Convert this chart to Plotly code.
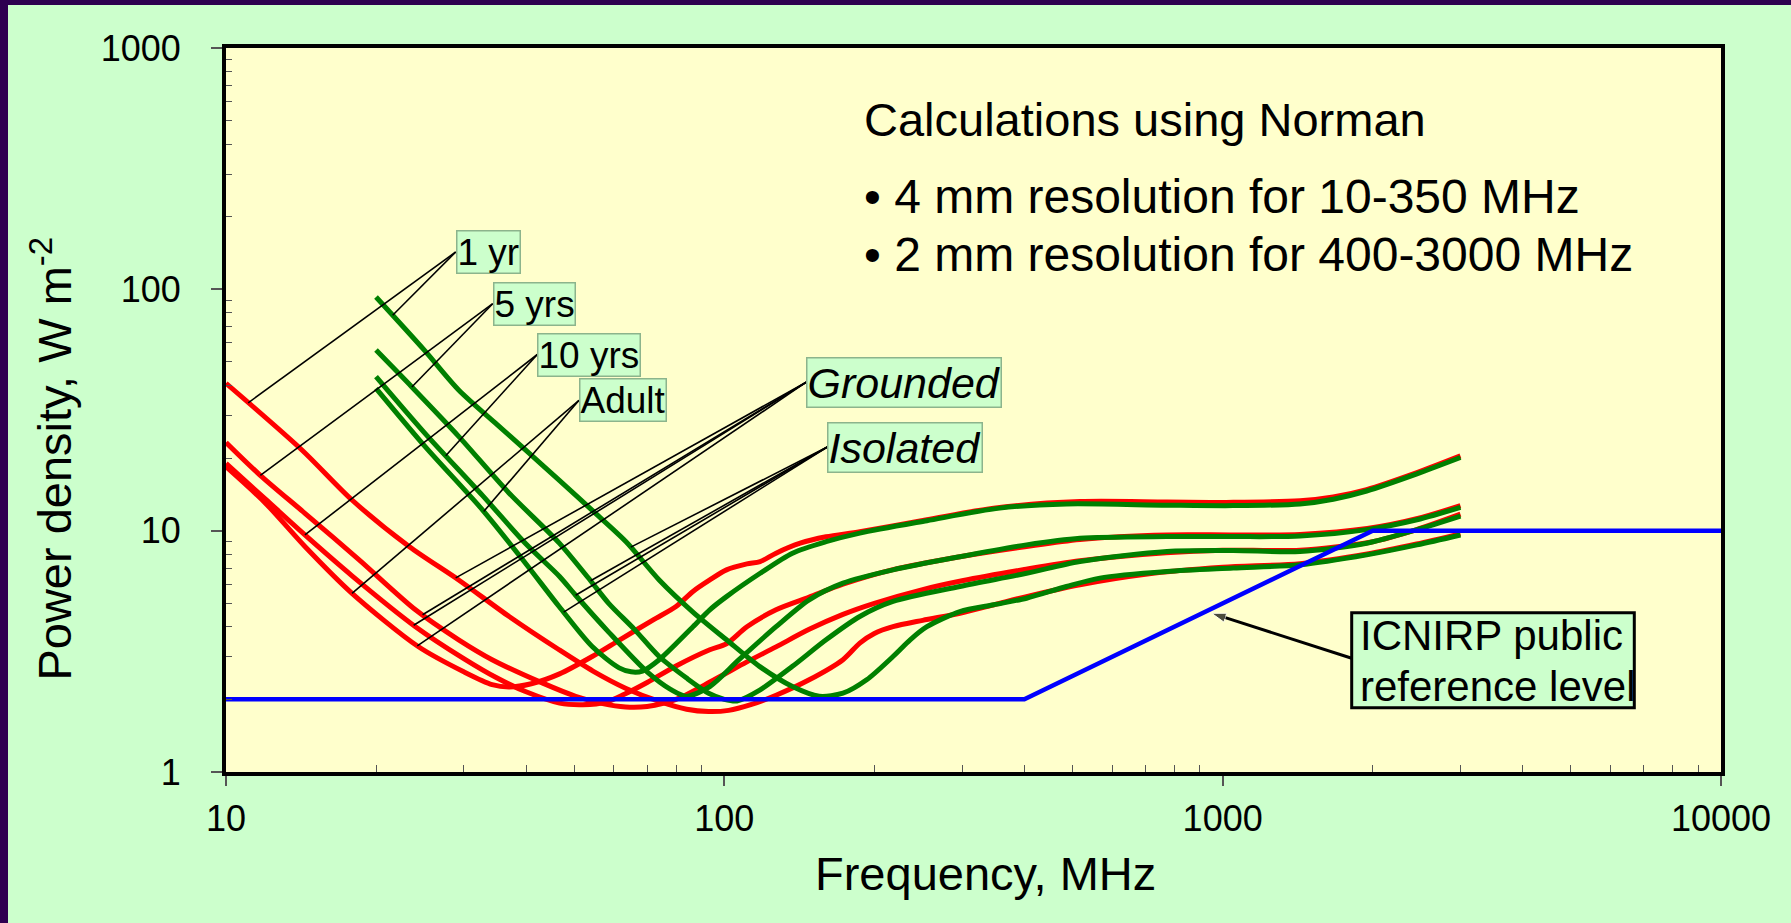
import numpy as np
import plotly.graph_objects as go

# ---------------- data ----------------
freq_icnirp = [10, 400, 2000, 10000]
pd_icnirp = [2, 2, 10, 10]

# Grounded (red)
g1_f = [10, 14.2, 17.9, 23.3, 29.3, 37, 46.6, 54.5, 63.5, 74, 84, 93, 102, 113, 127, 148, 173, 187, 200, 218, 250, 297, 350, 404, 517, 700, 1000, 1430, 1950, 2450, 3000]
g1_p = [40.8, 21.6, 13.4, 8.6, 6.25, 4.41, 3.21, 2.62, 2.22, 1.96, 1.82, 1.78, 1.8, 1.9, 2.08, 2.41, 2.92, 3.42, 3.75, 4.0, 4.25, 4.55, 4.95, 5.33, 5.97, 6.6, 7.05, 7.3, 8.0, 8.8, 9.7]

g5_f = [10, 11.7, 14.4, 18.5, 24, 29.3, 34.2, 43.1, 50.3, 57, 63.4, 70, 80, 95, 111, 127, 148, 173, 200, 250, 300, 400, 517, 770, 1000, 1430, 2000, 2450, 3000]
g5_p = [23.2, 17.0, 11.8, 7.57, 4.7, 3.53, 2.92, 2.34, 2.06, 1.92, 1.86, 1.87, 2.0, 2.4, 2.86, 3.3, 3.9, 4.5, 5.0, 5.7, 6.2, 6.9, 7.5, 8.1, 8.3, 8.3, 9.0, 10.1, 11.7]

g10_f = [10, 12, 14.4, 17.9, 24, 30, 35, 40, 46.7, 52, 58, 63, 70, 80, 93.5, 101, 111, 127, 148, 173, 218, 297, 404, 517, 773, 1050, 1430, 1950, 2450, 3000]
g10_p = [19.0, 13.5, 9.6, 6.5, 4.0, 2.95, 2.45, 2.15, 1.93, 1.9, 1.95, 2.1, 2.35, 2.75, 3.21, 3.4, 4.0, 4.7, 5.3, 6.0, 6.9, 7.8, 8.6, 9.2, 9.6, 9.6, 9.65, 10.2, 11.2, 12.7]

gad_f = [10, 12, 14.4, 17.9, 24.3, 30, 34.2, 37, 41, 46.7, 54.3, 61.7, 72, 80, 86.5, 93.5, 101, 111, 118, 127, 142, 160, 187, 255, 347, 517, 773, 1050, 1430, 1667, 1945, 2454, 3000]
gad_p = [18.4, 13.0, 8.6, 5.5, 3.31, 2.6, 2.3, 2.25, 2.32, 2.55, 3.01, 3.53, 4.27, 4.85, 5.6, 6.25, 6.88, 7.28, 7.45, 8.07, 8.87, 9.43, 9.9, 11.1, 12.4, 13.2, 13.15, 13.1, 13.3, 13.8, 14.8, 17.4, 20.4]

# Isolated (green)
i1_f = [20, 25, 29.3, 35, 39.9, 46.6, 54.4, 63.5, 74, 86.5, 101, 117.6, 137, 155, 173, 193, 218, 236, 255, 297, 347, 404, 486, 567, 773, 1050, 1429, 1945, 2454, 3000]
i1_p = [93, 56, 38.3, 27.5, 21.6, 16.2, 12.1, 9.0, 6.25, 4.6, 3.53, 2.74, 2.26, 2.06, 2.12, 2.41, 3.01, 3.53, 4.0, 4.62, 4.93, 5.25, 5.87, 6.36, 6.77, 7.0, 7.22, 7.94, 8.73, 9.6]

i5_f = [20, 23.6, 29.3, 37, 46.6, 53.9, 58.6, 66, 74, 84, 93, 100, 106, 118, 137, 160, 187, 218, 297, 404, 517, 773, 1050, 1430, 1945, 2454, 3000]
i5_p = [56, 39.4, 24.6, 14.3, 8.9, 6.2, 5.0, 3.9, 3.01, 2.45, 2.12, 2.0, 1.97, 2.19, 2.74, 3.53, 4.41, 5.09, 5.87, 6.66, 7.45, 8.2, 8.27, 8.2, 8.87, 10.1, 11.5]

i10_f = [20, 25, 32.7, 40, 46.7, 50.3, 58.6, 70, 78, 84, 93.5, 107, 127, 148, 173, 218, 297, 404, 517, 773, 1050, 1430, 1945, 2454, 3000]
i10_p = [43.5, 25.5, 14.0, 8.8, 6.46, 5.4, 3.8, 2.6, 2.2, 2.06, 2.26, 2.92, 4.0, 5.17, 6.06, 6.88, 7.8, 8.73, 9.3, 9.45, 9.45, 9.5, 10.1, 11.1, 12.5]

iad_f = [20, 25.1, 32.7, 39.9, 46.6, 54.3, 61.5, 65, 68.5, 74, 86.5, 93.5, 101, 118, 137, 160, 187, 255, 357, 486, 773, 1050, 1429, 1667, 1945, 2454, 3000]
iad_p = [38.9, 22.3, 12.2, 7.33, 4.85, 3.31, 2.7, 2.6, 2.62, 2.92, 4.0, 4.7, 5.33, 6.66, 8.07, 9.0, 9.77, 11.0, 12.4, 12.9, 12.75, 12.7, 12.9, 13.5, 14.6, 17.2, 20.1]

x_tickvals = [10, 100, 1000, 10000]
x_ticktext = ["10", "100", "1000", "10000"]
y_tickvals = [1, 10, 100, 1000]
y_ticktext = ["1", "10", "100", "1000"]

# ---------------- layout constants ----------------
W, H = 1791, 923
L, R, T, B = 226, 70, 48, 151
PW, PH = W - L - R, H - T - B
FONT = "Liberation Sans, Arial, sans-serif"
RED = "#FF0000"
GREEN = "#008000"
BLUE = "#0000FF"
BOXBG = "#CCFFCC"


def lx(px):
    return 1 + 3 * (px - L) / PW


def ly(py):
    return 3 * ((H - B) - py) / PH


def xp(px):
    return (px - L) / PW


def yp(py):
    return ((H - B) - py) / PH


def at(fs, ps, f):
    return float(10 ** np.interp(np.log10(f), np.log10(fs), np.log10(ps)))


fig = go.Figure()

for f, p in [(g1_f, g1_p), (g5_f, g5_p), (g10_f, g10_p), (gad_f, gad_p)]:
    fig.add_trace(go.Scatter(x=f, y=p, mode="lines", line=dict(color=RED, width=5, shape="spline", smoothing=0.8),
                             hoverinfo="skip"))
for f, p in [(i1_f, i1_p), (i5_f, i5_p), (i10_f, i10_p), (iad_f, iad_p)]:
    fig.add_trace(go.Scatter(x=f, y=p, mode="lines", line=dict(color=GREEN, width=5, shape="spline", smoothing=0.8),
                             hoverinfo="skip"))

# leader lines: (label text, box left px, box mid py, font size, italic, targets)
labels = [
    ("1 yr", 455.7, 252.0, 37, False, [((g1_f, g1_p), 11.08), ((i1_f, i1_p), 21.6)]),
    ("5 yrs", 492.7, 303.7, 37, False, [((g5_f, g5_p), 11.72), ((i5_f, i5_p), 23.6)]),
    ("10 yrs", 537.3, 354.5, 37, False, [((g10_f, g10_p), 14.4), ((i10_f, i10_p), 27.6)]),
    ("Adult", 579.0, 400.3, 37, False, [((gad_f, gad_p), 17.9), ((iad_f, iad_p), 32.9)]),
    ("Grounded", 806.2, 382.2, 43, True, [((g1_f, g1_p), 28.9), ((g5_f, g5_p), 24.8), ((g10_f, g10_p), 23.8), ((gad_f, gad_p), 24.2)]),
    ("Isolated", 827.3, 447.0, 43, True, [((i1_f, i1_p), 64.9), ((i5_f, i5_p), 53.9), ((i10_f, i10_p), 50.3), ((iad_f, iad_p), 47.6)]),
]

lxs, lys = [], []
for text, bx, by, size, ital, targets in labels:
    ox, oy = 10 ** lx(bx), 10 ** ly(by)
    for (cf, cp), f in targets:
        lxs += [ox, f, None]
        lys += [oy, at(cf, cp, f), None]
fig.add_trace(go.Scatter(x=lxs, y=lys, mode="lines", line=dict(color="black", width=1.6), hoverinfo="skip"))

fig.add_trace(go.Scatter(x=freq_icnirp, y=pd_icnirp, mode="lines", line=dict(color=BLUE, width=4.5), hoverinfo="skip"))

# arrow to the ICNIRP line
fig.add_trace(go.Scatter(x=[10 ** lx(1351.7), 10 ** lx(1211.7)], y=[10 ** ly(658.3), 10 ** ly(613.3)],
                         mode="lines+markers", line=dict(color="black", width=3),
                         marker=dict(symbol="arrow", size=[0, 15], angleref="previous", color="black"),
                         hoverinfo="skip"))

for text, bx, by, size, ital, targets in labels:
    fig.add_annotation(x=lx(bx), y=ly(by), xref="x", yref="y", showarrow=False,
                       text=("<i>%s</i>" % text) if ital else text,
                       xanchor="left", yanchor="middle",
                       font=dict(family=FONT, size=size, color="black"),
                       bgcolor=BOXBG, bordercolor="#8CB48C", borderwidth=1.5, borderpad=0)

# ICNIRP box
fig.add_shape(type="rect", xref="paper", yref="paper", x0=xp(1351.7), x1=xp(1634.3), y0=yp(707.7), y1=yp(612.7),
              fillcolor=BOXBG, line=dict(color="black", width=3), layer="above")
for txt, py in [("ICNIRP public", 635.0), ("reference level", 686.5)]:
    fig.add_annotation(x=xp(1358), y=yp(py), xref="paper", yref="paper", text=txt, showarrow=False,
                       xanchor="left", yanchor="middle", font=dict(family=FONT, size=42, color="black"))

# text block
for txt, py, sz in [("Calculations using Norman", 120.0, 47),
                    ("\u2022 4 mm resolution for 10-350 MHz", 196.7, 48),
                    ("\u2022 2 mm resolution for 400-3000 MHz", 255.0, 48)]:
    fig.add_annotation(x=xp(861.5), y=yp(py), xref="paper", yref="paper", text=txt, showarrow=False,
                       xanchor="left", yanchor="middle", font=dict(family=FONT, size=sz, color="black"))

# axis titles
fig.add_annotation(x=xp(985), y=yp(873.3), xref="paper", yref="paper", text="Frequency, MHz", showarrow=False,
                   xanchor="center", yanchor="middle", font=dict(family=FONT, size=47, color="black"))
fig.add_annotation(x=xp(51.6), y=yp(459), xref="paper", yref="paper", text="Power density, W m<sup>-2</sup>",
                   showarrow=False, textangle=-90, xanchor="center", yanchor="middle",
                   font=dict(family=FONT, size=47, color="black"))

# purple frame strips (top and left)
PURPLE = "#2E0050"
fig.add_shape(type="rect", xref="paper", yref="paper", x0=xp(0), x1=xp(8), y0=yp(H), y1=yp(0),
              fillcolor=PURPLE, line=dict(width=0), layer="above")
fig.add_shape(type="rect", xref="paper", yref="paper", x0=xp(0), x1=xp(W), y0=yp(5), y1=yp(0),
              fillcolor=PURPLE, line=dict(width=0), layer="above")

x_minor = [m * d for d in (10, 100, 1000) for m in range(2, 10)]
y_minor = [m * d for d in (1, 10, 100) for m in range(2, 10)]

fig.update_xaxes(type="log", range=[1, 4], tickmode="array", tickvals=x_tickvals, ticktext=x_ticktext,
                 showgrid=False, zeroline=False, showline=True, linecolor="black", linewidth=4, mirror=True,
                 ticks="outside", ticklen=10, tickwidth=1.5, tickcolor="#555555",
                 ticklabelstandoff=2,
                 tickfont=dict(family=FONT, size=36, color="black"),
                 minor=dict(tickvals=x_minor, ticks="inside", ticklen=7, tickwidth=1.2, tickcolor="#555555", showgrid=False))
fig.update_yaxes(type="log", range=[0, 3], tickmode="array", tickvals=y_tickvals, ticktext=y_ticktext,
                 showgrid=False, zeroline=False, showline=True, linecolor="black", linewidth=4, mirror=True,
                 ticks="outside", ticklen=11, tickwidth=1.5, tickcolor="#555555",
                 ticklabelstandoff=23,
                 tickfont=dict(family=FONT, size=36, color="black"),
                 minor=dict(tickvals=y_minor, ticks="inside", ticklen=6, tickwidth=1.2, tickcolor="#555555", showgrid=False))

fig.update_layout(width=W, height=H, margin=dict(l=L, r=R, t=T, b=B, pad=0),
                  paper_bgcolor="#CCFFCC", plot_bgcolor="#FFFFCC", showlegend=False,
                  font=dict(family=FONT, color="black"))

fig.write_html("out.html")
